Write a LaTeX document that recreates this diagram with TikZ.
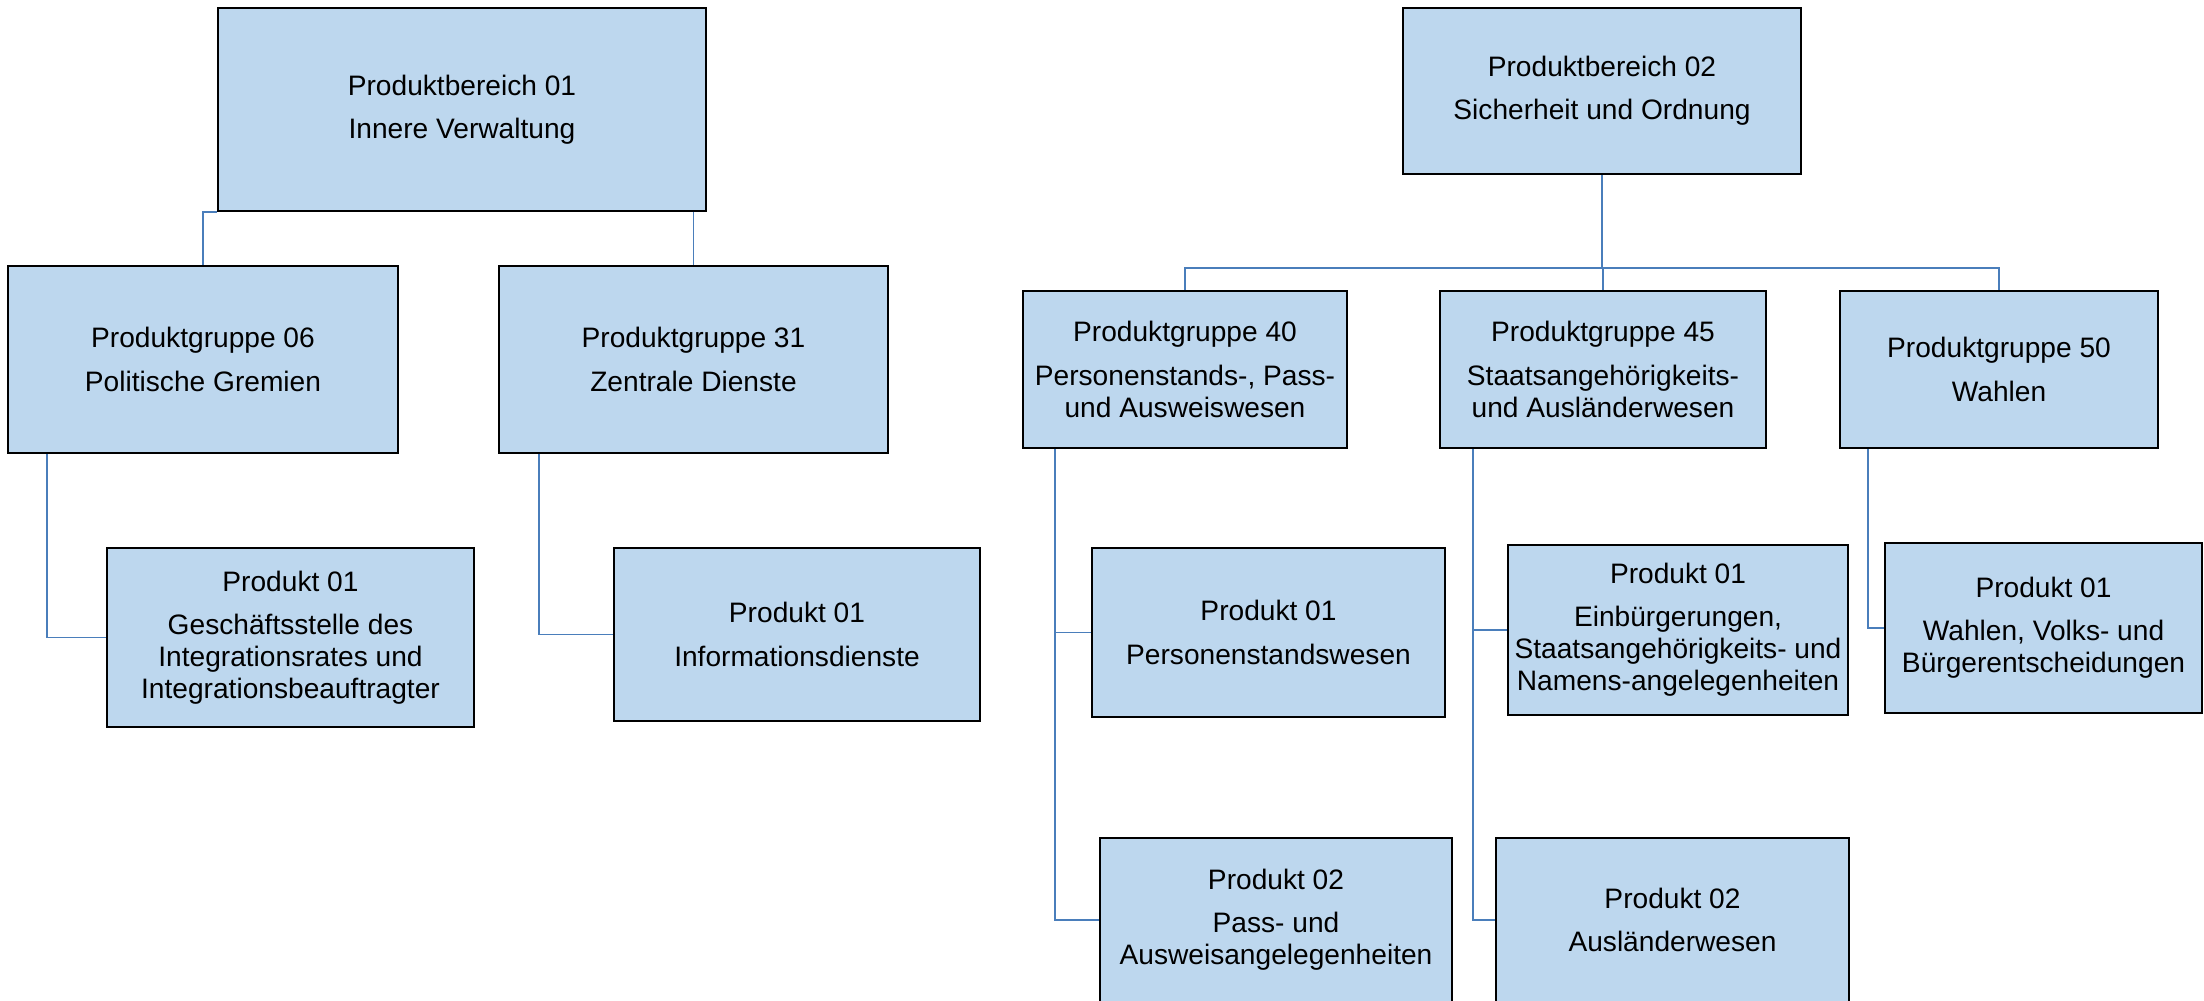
\documentclass[tikz,border=0pt]{standalone}
\usepackage{fontspec}
\setmainfont{Liberation Sans}
\definecolor{boxfill}{RGB}{189,215,238}
\definecolor{linkblue}{RGB}{74,126,187}
\tikzset{
  box/.style={draw=black, line width=0.75pt, fill=boxfill, align=center,
    inner sep=0pt, font=\fontsize{8}{9.1}\selectfont},
  link/.style={draw=linkblue, line width=0.55pt},
}
\begin{document}
\begin{tikzpicture}[x=0.01cm, y=0.01cm]
\useasboundingbox (0,0) rectangle (2204,-1001);
% Produktbereich 01
\node[box, minimum width=4.88cm, minimum height=2.03cm] (PB_01) at (462,-109.5) {Produktbereich 01\\[3.2pt]Innere Verwaltung};
\node[box, minimum width=3.90cm, minimum height=1.87cm] (PG_06) at (203,-359.5) {Produktgruppe 06\\[3.2pt]Politische Gremien};
\node[box, minimum width=3.89cm, minimum height=1.87cm] (PG_31) at (693.5,-359.5) {Produktgruppe 31\\[3.2pt]Zentrale Dienste};
\node[box, minimum width=3.67cm, minimum height=1.79cm] (P_06_01) at (290.5,-637.5) {Produkt 01\\[3.2pt]Geschäftsstelle des\\Integrationsrates und\\Integrationsbeauftragter};
\node[box, minimum width=3.66cm, minimum height=1.73cm] (P_31_01) at (797,-634.5) {Produkt 01\\[3.2pt]Informationsdienste};
\draw[link] (PG_06.north) |- (PB_01.south west);
\draw[link] (PG_31.north) -- (PG_31.north |- PB_01.south);
\draw[link] ([xshift=0.40cm]PG_06.south west) |- (P_06_01.west);
\draw[link] ([xshift=0.41cm]PG_31.south west) |- (P_31_01.west);
% Produktbereich 02
\node[box, minimum width=3.98cm, minimum height=1.66cm] (PB_02) at (1602,-91) {Produktbereich 02\\[3.2pt]Sicherheit und Ordnung};
\node[box, minimum width=3.24cm, minimum height=1.57cm] (PG_40) at (1185,-369.5) {Produktgruppe 40\\[3.2pt]Personenstands-, Pass-\\und Ausweiswesen};
\node[box, minimum width=3.26cm, minimum height=1.57cm] (PG_45) at (1603,-369.5) {Produktgruppe 45\\[3.2pt]Staatsangehörigkeits-\\und Ausländerwesen};
\node[box, minimum width=3.18cm, minimum height=1.57cm] (PG_50) at (1999,-369.5) {Produktgruppe 50\\[3.2pt]Wahlen};
\coordinate (bus) at (1602,-268);
\draw[link] (PB_02.south) -- (bus);
\draw[link] (bus) -| (PG_40.north);
\draw[link] (bus) -| (PG_45.north);
\draw[link] (bus) -| (PG_50.north);
\node[box, minimum width=3.53cm, minimum height=1.69cm] (P_40_01) at (1268.5,-632.5) {Produkt 01\\[3.2pt]Personenstandswesen};
\node[box, minimum width=3.52cm, minimum height=1.64cm] (P_40_02) at (1276,-920) {Produkt 02\\[3.2pt]Pass- und\\Ausweisangelegenheiten};
\node[box, minimum width=3.40cm, minimum height=1.70cm] (P_45_01) at (1678,-630) {Produkt 01\\[3.2pt]Einbürgerungen,\\Staatsangehörigkeits- und\\Namens-angelegenheiten};
\node[box, minimum width=3.53cm, minimum height=1.64cm] (P_45_02) at (1672.5,-920) {Produkt 02\\[3.2pt]Ausländerwesen};
\node[box, minimum width=3.17cm, minimum height=1.70cm] (P_50_01) at (2043.5,-628) {Produkt 01\\[3.2pt]Wahlen, Volks- und\\Bürgerentscheidungen};
\draw[link] ([xshift=0.33cm]PG_40.south west) |- (P_40_01.west);
\draw[link] ([xshift=0.33cm]PG_40.south west) |- (P_40_02.west);
\draw[link] ([xshift=0.34cm]PG_45.south west) |- (P_45_01.west);
\draw[link] ([xshift=0.34cm]PG_45.south west) |- (P_45_02.west);
\draw[link] ([xshift=0.29cm]PG_50.south west) |- (P_50_01.west);
\end{tikzpicture}
\end{document}
